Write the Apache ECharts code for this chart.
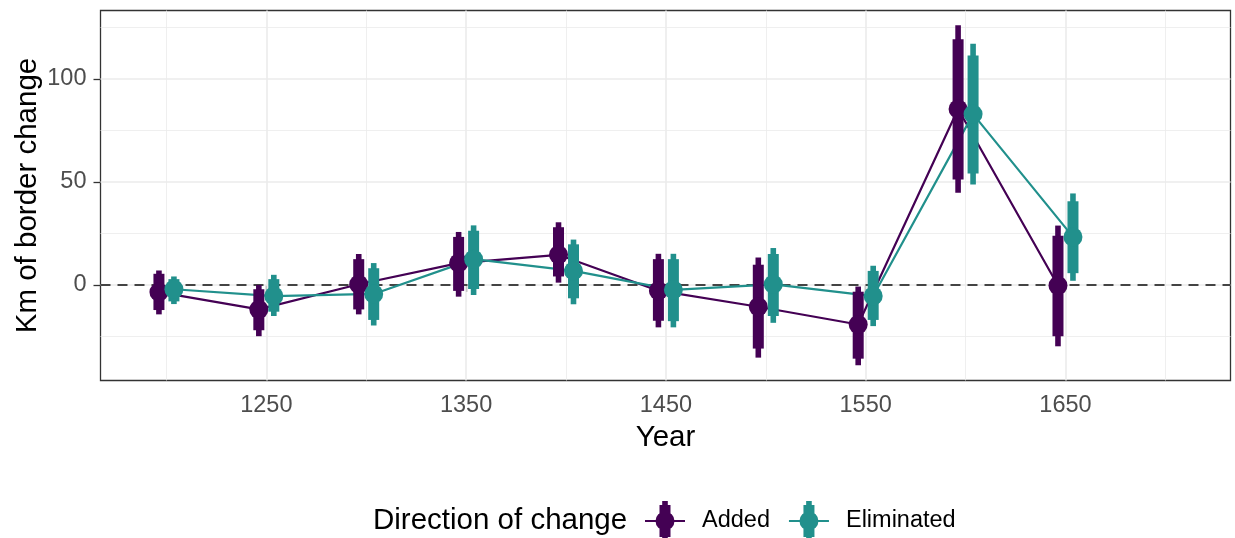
<!DOCTYPE html>
<html>
<head>
<meta charset="utf-8">
<script src="https://cdn.jsdelivr.net/npm/echarts@6/dist/echarts.min.js"></script>
<style>
  html, body { margin: 0; padding: 0; background: #fff; }
  #chart { width: 1235px; height: 538px; }
</style>
</head>
<body>
<div id="chart"></div>
<script>
// years (groups), dodged left/right for the two directions
var years = [1200, 1250, 1300, 1350, 1400, 1450, 1500, 1550, 1600, 1650];

// Added: point estimate + thick (inner) and thin (outer) intervals
var addedMid     = [-3.5, -11.9, 0.3, 10.6, 14.6, -2.8, -10.6, -19.2, 85.4, -0.3];
var addedThickLo = [-12.2, -22.0, -11.9, -2.9, 4.1, -17.4, -30.9, -35.8, 51.2, -24.9];
var addedThickHi = [5.4, -2.1, 12.5, 23.3, 28.0, 12.5, 9.8, -3.3, 119.2, 23.9];
var addedThinLo  = [-14.3, -24.9, -14.3, -5.7, 1.1, -20.6, -35.3, -39.0, 44.7, -29.8];
var addedThinHi  = [7.0, 0.0, 15.0, 25.7, 30.4, 15.1, 13.3, -0.8, 126.0, 28.8];

// Eliminated
var elimMid     = [-2.1, -5.4, -4.4, 12.5, 6.8, -2.4, 0.3, -5.4, 82.9, 23.3];
var elimThickLo = [-8.0, -13.0, -17.0, -2.0, -6.5, -17.6, -15.1, -17.0, 54.1, 5.7];
var elimThickHi = [2.8, 2.8, 8.1, 26.3, 19.7, 12.5, 15.0, 6.8, 111.4, 40.6];
var elimThinLo  = [-9.3, -15.1, -19.7, -4.9, -9.4, -20.6, -18.4, -20.0, 48.8, 2.0];
var elimThinHi  = [4.1, 4.9, 10.6, 28.9, 22.0, 15.1, 17.9, 9.3, 117.1, 44.4];

// axis ticks / grid
var xTicks = [1250, 1350, 1450, 1550, 1650];
var xMinor = [1200, 1300, 1400, 1500, 1600, 1700];
var yTicks = [0, 50, 100];
var yMinor = [-25, 25, 75, 125];

var colAdded = "#440154";
var colElim = "#21908C";
var font = "Liberation Sans, Arial, sans-serif";
var dodge = 3.75;

function rows(off, mid, thinLo, thinHi, thickLo, thickHi) {
  return years.map(function (y, i) {
    return [y + off, mid[i], thinLo[i], thinHi[i], thickLo[i], thickHi[i]];
  });
}
var addedRows = rows(-dodge, addedMid, addedThinLo, addedThinHi, addedThickLo, addedThickHi);
var elimRows = rows(dodge, elimMid, elimThinLo, elimThinHi, elimThickLo, elimThickHi);

function intervalItem(color) {
  return function (params, api) {
    var x = api.coord([api.value(0), 0])[0];
    var pMid = api.coord([api.value(0), api.value(1)]);
    var thinLo = api.coord([api.value(0), api.value(2)])[1];
    var thinHi = api.coord([api.value(0), api.value(3)])[1];
    var thickLo = api.coord([api.value(0), api.value(4)])[1];
    var thickHi = api.coord([api.value(0), api.value(5)])[1];
    return {
      type: "group",
      children: [
        { type: "rect", shape: { x: x - 2.8, y: thinHi, width: 5.6, height: thinLo - thinHi }, style: { fill: color } },
        { type: "rect", shape: { x: x - 5.5, y: thickHi, width: 11, height: thickLo - thickHi }, style: { fill: color } },
        { type: "circle", shape: { cx: pMid[0], cy: pMid[1], r: 9.5 }, style: { fill: color } }
      ]
    };
  };
}

function gridLines(vals, key, width) {
  return vals.map(function (v) {
    var d = {}; d[key] = v;
    d.lineStyle = { color: "#EBEBEB", width: width, type: "solid" };
    return d;
  });
}

// legend key: horizontal line + interval + point
var keyIcon = "path://M0 19 H40 V21 H0 Z M17.2 0 H22.8 V40 H17.2 Z M14.5 4 H25.5 V36 H14.5 Z " +
  "M10.5 20 A9.5 9.5 0 1 1 29.5 20 A9.5 9.5 0 1 1 10.5 20 Z";

var chart = echarts.init(document.getElementById("chart"));
var option = {
  animation: false,
  textStyle: { fontFamily: font },
  grid: {
    left: 100.5, top: 10.5, right: 4.5, bottom: 157.5,
    show: true, borderColor: "#333333", borderWidth: 1.3, backgroundColor: "#fff"
  },
  xAxis: {
    type: "value",
    min: 1167, max: 1732.6,
    name: "Year",
    nameLocation: "middle",
    nameGap: 42,
    nameMoveOverlap: false,
    nameTextStyle: { color: "#000", fontSize: 29.5, fontFamily: font },
    axisLine: { show: false },
    axisTick: { show: true, length: 7, customValues: xTicks, lineStyle: { color: "#333", width: 1.3 } },
    axisLabel: {
      customValues: xTicks, color: "#4D4D4D", fontSize: 23.5, fontFamily: font, margin: 13,
      formatter: function (v) { return String(v); }
    },
    splitLine: { show: false }
  },
  yAxis: {
    type: "value",
    min: -46.4, max: 133.2,
    name: "Km of border change",
    nameLocation: "middle",
    nameGap: 58,
    nameMoveOverlap: false,
    nameTextStyle: { color: "#000", fontSize: 29.5, fontFamily: font },
    axisLine: { show: false },
    axisTick: { show: true, length: 7, customValues: yTicks, lineStyle: { color: "#333", width: 1.3 } },
    axisLabel: {
      customValues: yTicks, color: "#4D4D4D", fontSize: 23.5, fontFamily: font, margin: 14,
      formatter: function (v) { return String(v); }
    },
    splitLine: { show: false }
  },
  legend: {
    left: 645, top: 501, padding: 0,
    itemWidth: 40, itemHeight: 40, itemGap: 19,
    textStyle: { color: "#000", fontSize: 23.5, fontFamily: font, padding: [0, 0, 0, 12] }
  },
  graphic: [
    {
      type: "text", x: 373, y: 521,
      style: { text: "Direction of change", fontSize: 29.5, fontFamily: font, fill: "#000", verticalAlign: "middle" }
    }
  ],
  series: [
    {
      name: "grid",
      type: "line",
      data: [],
      silent: true,
      z: 0,
      markLine: {
        silent: true,
        z: 1,
        symbol: "none",
        label: { show: false },
        animation: false,
        data: []
          .concat(gridLines(xMinor, "xAxis", 0.8))
          .concat(gridLines(yMinor, "yAxis", 0.8))
          .concat(gridLines(xTicks, "xAxis", 1.6))
          .concat(gridLines(yTicks, "yAxis", 1.6))
          .concat([{ yAxis: 0, lineStyle: { color: "#444444", width: 2, type: [10, 7] } }])
      }
    },
    {
      name: "Added",
      type: "line",
      data: addedRows.map(function (r) { return [r[0], r[1]]; }),
      showSymbol: false,
      symbol: "none",
      lineStyle: { color: colAdded, width: 2.2 },
      itemStyle: { color: colAdded },
      z: 2
    },
    {
      name: "Eliminated",
      type: "line",
      data: elimRows.map(function (r) { return [r[0], r[1]]; }),
      showSymbol: false,
      symbol: "none",
      lineStyle: { color: colElim, width: 2.2 },
      itemStyle: { color: colElim },
      z: 2
    },
    {
      name: "Added",
      type: "custom",
      renderItem: intervalItem(colAdded),
      data: addedRows,
      itemStyle: { color: colAdded },
      encode: { x: 0, y: [1, 2, 3, 4, 5] },
      z: 3
    },
    {
      name: "Eliminated",
      type: "custom",
      renderItem: intervalItem(colElim),
      data: elimRows,
      itemStyle: { color: colElim },
      encode: { x: 0, y: [1, 2, 3, 4, 5] },
      z: 4
    }
  ]
};
option.legend.data = [
  { name: "Added", icon: keyIcon, itemStyle: { color: colAdded } },
  { name: "Eliminated", icon: keyIcon, itemStyle: { color: colElim } }
];
chart.setOption(option);
</script>
</body>
</html>
